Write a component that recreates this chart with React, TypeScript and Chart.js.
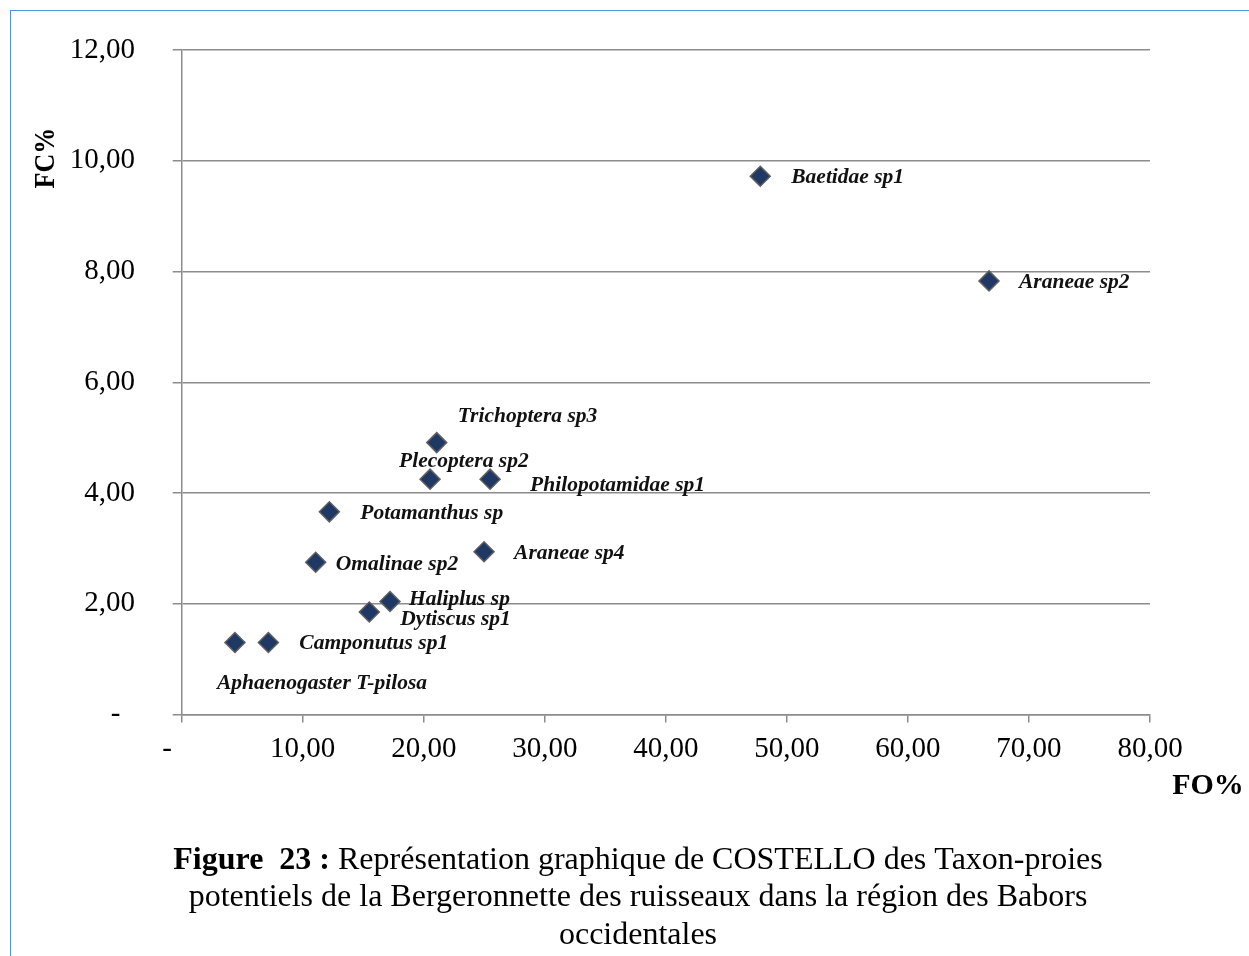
import { useEffect, useRef } from "react";
import { Chart, registerables } from "chart.js";

Chart.register(...registerables);

// ---- Data ----
const taxa: string[] = [
  "Baetidae sp1",
  "Araneae sp2",
  "Trichoptera sp3",
  "Plecoptera sp2",
  "Philopotamidae sp1",
  "Potamanthus sp",
  "Omalinae sp2",
  "Araneae sp4",
  "Haliplus sp",
  "Dytiscus sp1",
  "Camponutus sp1",
  "Aphaenogaster T-pilosa",
];
const foValues: number[] = [47.8, 66.7, 21.07, 20.52, 25.48, 12.2, 11.07, 24.98, 17.21, 15.5, 7.16, 4.4];
const fcValues: number[] = [9.72, 7.83, 4.91, 4.25, 4.25, 3.66, 2.75, 2.94, 2.04, 1.85, 1.3, 1.3];

const xTickLabels: string[] = ["-\u2007\u2007", "10,00", "20,00", "30,00", "40,00", "50,00", "60,00", "70,00", "80,00"];
const yTickLabels: string[] = ["-  ", "2,00", "4,00", "6,00", "8,00", "10,00", "12,00"];

const xTitle = "FO%";
const yTitle = "FC%";
const captionBold = "Figure  23 : ";
const captionLines: string[] = [
  "Représentation graphique de COSTELLO des Taxon-proies",
  "potentiels de la Bergeronnette des ruisseaux dans la région des Babors",
  "occidentales",
];

// label placement offsets (px) relative to each marker: [dx, dy]
const labelOffsets: [number, number][] = [
  [31, 1],
  [30, 2],
  [21, -26],
  [-31, -18],
  [40, 6],
  [31, 2],
  [20, 2],
  [30, 2],
  [19, -2],
  [31, 7],
  [31, 1],
  [-18, 41],
];

const SERIF = '"Liberation Serif", "Times New Roman", serif';

const annotate = {
  id: "annotate",
  afterDatasetsDraw(chart: any) {
    const ctx = chart.ctx;
    const meta = chart.getDatasetMeta(0);
    ctx.save();
    ctx.font = `italic bold 21.5px ${SERIF}`;
    ctx.fillStyle = "#111";
    ctx.textAlign = "left";
    ctx.textBaseline = "middle";
    meta.data.forEach((pt: any, i: number) => {
      const [dx, dy] = labelOffsets[i];
      ctx.fillText(taxa[i], pt.x + dx, pt.y + dy);
    });
    ctx.restore();
  },
  afterDraw(chart: any) {
    const ctx = chart.ctx;
    const area = chart.chartArea;
    ctx.save();
    ctx.fillStyle = "#000";
    // y title
    ctx.save();
    ctx.translate(area.left - 136, area.top + 108);
    ctx.rotate(-Math.PI / 2);
    ctx.font = `bold 28px ${SERIF}`;
    ctx.textAlign = "center";
    ctx.textBaseline = "middle";
    ctx.scale(0.93, 1.08);
    ctx.fillText(yTitle, 0, 0);
    ctx.restore();
    // x title
    ctx.font = `bold 30px ${SERIF}`;
    ctx.textAlign = "center";
    ctx.textBaseline = "middle";
    ctx.fillText(xTitle, area.right + 58, area.bottom + 72);

    // caption
    const cx = 638;
    const size = 32;
    ctx.textBaseline = "alphabetic";
    ctx.textAlign = "left";
    const ys = [869, 906, 944];
    ctx.font = `bold ${size}px ${SERIF}`;
    const wb = ctx.measureText(captionBold).width;
    ctx.font = `${size}px ${SERIF}`;
    const w1 = ctx.measureText(captionLines[0]).width;
    const start1 = cx - (wb + w1) / 2;
    ctx.font = `bold ${size}px ${SERIF}`;
    ctx.fillText(captionBold, start1, ys[0]);
    ctx.font = `${size}px ${SERIF}`;
    ctx.fillText(captionLines[0], start1 + wb, ys[0]);
    ctx.textAlign = "center";
    for (let i = 1; i < captionLines.length; i++) {
      ctx.fillText(captionLines[i], cx, ys[i]);
    }
    ctx.restore();
  },
};

export default function App() {
  const canvasRef = useRef<HTMLCanvasElement | null>(null);

  useEffect(() => {
    if (!canvasRef.current) return;
    const gridColor = "#8c8c8c";
    const chart = new Chart(canvasRef.current, {
      type: "scatter",
      data: {
        datasets: [
          {
            label: "Taxa",
            data: foValues.map((x, i) => ({ x, y: fcValues[i] })),
            pointStyle: "rectRot",
            pointRadius: 10,
            pointHoverRadius: 10,
            backgroundColor: "#1f3864",
            borderColor: "#606060",
            borderWidth: 1.5,
          },
        ],
      },
      options: {
        animation: false,
        responsive: false,
        devicePixelRatio: 1,
        layout: { padding: { left: 0, top: 50, right: 99, bottom: 171.5 } },
        plugins: {
          legend: { display: false },
          tooltip: { enabled: false },
        },
        scales: {
          x: {
            type: "linear",
            min: 0,
            max: 80,
            afterFit: (s: any) => {
              s.height = 70;
            },
            ticks: {
              stepSize: 10,
              maxRotation: 0,
              padding: 9,
              color: "#000",
              font: { family: SERIF, size: 29 },
              callback: (_v: any, i: number) => xTickLabels[i],
            },
            grid: {
              drawOnChartArea: false,
              drawTicks: true,
              tickLength: 8,
              color: gridColor,
              lineWidth: 1.5,
            },
            border: { display: true, color: gridColor, width: 1.5 },
          },
          y: {
            type: "linear",
            min: 0,
            max: 12,
            afterFit: (s: any) => {
              s.width = 181.7;
              s.paddingTop = 10;
              s.paddingBottom = 10;
            },
            ticks: {
              stepSize: 2,
              padding: 37.7,
              color: "#000",
              font: { family: SERIF, size: 29 },
              callback: (_v: any, i: number) => yTickLabels[i],
            },
            grid: {
              drawOnChartArea: true,
              drawTicks: true,
              tickLength: 9,
              color: gridColor,
              lineWidth: 1.5,
            },
            border: { display: true, color: gridColor, width: 1.5 },
          },
        },
      },
      plugins: [annotate],
    });
    return () => chart.destroy();
  }, []);

  return (
    <div
      style={{
        position: "fixed",
        left: 0,
        top: 0,
        width: 1249,
        height: 956,
        background: "#fff",
        overflow: "hidden",
      }}
    >
      <canvas ref={canvasRef} width={1249} height={956} style={{ position: "absolute", left: 0, top: 0 }} />
      <div
        style={{
          position: "absolute",
          left: 10,
          top: 10,
          width: 1300,
          height: 1000,
          borderTop: "1px solid #4f8fdc",
          borderLeft: "1px solid #4f8fdc",
          pointerEvents: "none",
        }}
      />
    </div>
  );
}
